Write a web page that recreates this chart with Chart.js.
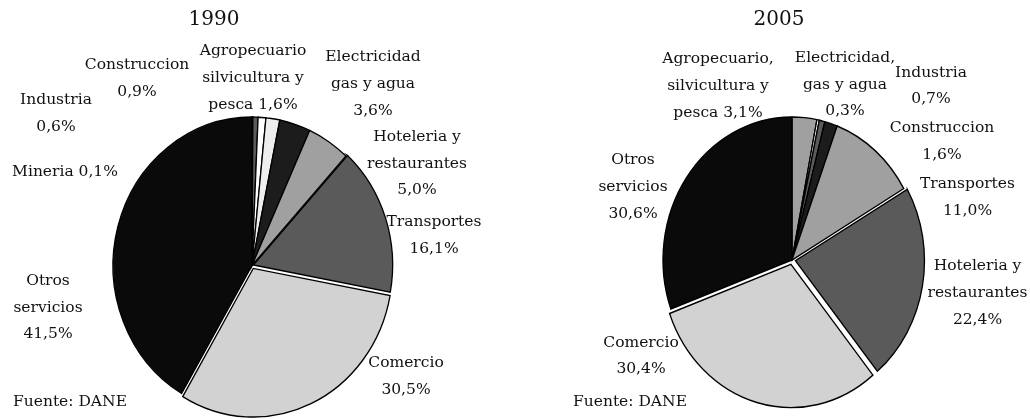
<!DOCTYPE html>
<html>
<head>
<meta charset="utf-8">
<script src="https://cdn.jsdelivr.net/npm/chart.js@4.4.1/dist/chart.umd.min.js"></script>
<style>
  body { margin: 0; background: #fff; }
  #wrap { position: relative; width: 1030px; height: 419px; }
  canvas { position: absolute; top: 0; }
  #pie1990 { left: 0; }
  #pie2005 { left: 515px; }
</style>
</head>
<body>
<div id="wrap">
  <canvas id="pie1990" width="515" height="419"></canvas>
  <canvas id="pie2005" width="515" height="419"></canvas>
</div>
<script>
// {v} is replaced by the formatted share
const categories1990 = ['Mineria {v}', 'Industria\n{v}', 'Construccion\n{v}', 'Agropecuario\nsilvicultura y\npesca {v}',
  'Electricidad\ngas y agua\n{v}', 'Hoteleria y\nrestaurantes\n{v}', 'Transportes\n{v}', 'Comercio\n{v}', 'Otros\nservicios\n{v}'];
const values1990 = [0.1, 0.6, 0.9, 1.6, 3.6, 5.0, 16.1, 30.5, 41.5];

const categories2005 = ['Agropecuario,\nsilvicultura y\npesca {v}', 'Electricidad,\ngas y agua\n{v}', 'Industria\n{v}',
  'Construccion\n{v}', 'Transportes\n{v}', 'Hoteleria y\nrestaurantes\n{v}', 'Comercio\n{v}', 'Otros\nservicios\n{v}'];
const values2005 = [3.1, 0.3, 0.7, 1.6, 11.0, 22.4, 30.4, 30.6];

const FONT = '"DejaVu Serif", serif';
const LINE = 26.7;

const fmt = v => v.toFixed(1).replace('.', ',') + '%';

function makePie(id, year, categories, values, opts) {
  // the original pies are slightly taller than wide
  const stretch = {
    id: 'stretch',
    beforeDatasetsDraw(chart) {
      const ctx = chart.ctx;
      ctx.save();
      ctx.translate(0, opts.cy);
      ctx.scale(1, opts.stretch);
      ctx.translate(0, -opts.cy);
    },
    afterDatasetsDraw(chart) {
      chart.ctx.restore();
    }
  };

  const texts = {
    id: 'texts',
    afterDraw(chart) {
      const ctx = chart.ctx;
      ctx.save();
      ctx.fillStyle = '#111';
      ctx.textAlign = 'center';
      ctx.textBaseline = 'middle';
      ctx.font = '20px ' + FONT;
      ctx.fillText(year, opts.titleX, 20);
      ctx.font = '15.5px ' + FONT;
      categories.forEach((cat, i) => {
        const lines = cat.replace('{v}', fmt(values[i])).split('\n');
        const [x, y] = opts.labelPos[i];
        const top = y - (lines.length - 1) * LINE / 2;
        lines.forEach((ln, k) => ctx.fillText(ln, x, top + k * LINE));
      });
      ctx.textAlign = 'left';
      ctx.fillText('Fuente: DANE', opts.sourceX, 402);
      ctx.restore();
    }
  };

  const w = 515, h = 419;
  return new Chart(document.getElementById(id), {
    type: 'pie',
    data: {
      labels: categories.map(c => c.replace(/\s*\{v\}/, '').replace(/\n/g, ' ')),
      datasets: [{
        data: values,
        backgroundColor: opts.colors,
        borderColor: '#000',
        borderWidth: 1.3,
        borderJoinStyle: 'miter',
        offset: opts.offsets, // chart.js moves an arc by offset / 4 px
        clip: false
      }]
    },
    options: {
      responsive: false,
      animation: false,
      events: [],
      radius: opts.r,
      layout: {
        padding: {
          left: Math.max(0, 2 * opts.cx - w), right: Math.max(0, w - 2 * opts.cx),
          top: Math.max(0, 2 * opts.cy - h), bottom: Math.max(0, h - 2 * opts.cy)
        }
      },
      plugins: { legend: { display: false }, tooltip: { enabled: false } }
    },
    plugins: [stretch, texts]
  });
}

makePie('pie1990', '1990', categories1990, values1990, {
  cx: 252, cy: 265.5, r: 139, stretch: 1.068,
  colors: ['#3a3a3a', '#5a5a5a', '#ffffff', '#eeeeee', '#1c1c1c', '#a0a0a0', '#5a5a5a', '#d2d2d2', '#0a0a0a'],
  offsets: [0, 0, 0, 0, 0, 0, 6, 12, 0],
  titleX: 214,
  labelPos: [[65, 172], [56, 113.5], [137, 78.5], [253, 78], [373, 84], [417, 163.5], [434, 235.5], [406, 376.5], [48, 307.5]],
  sourceX: 13
});

makePie('pie2005', '2005', categories2005, values2005, {
  cx: 277, cy: 260, r: 129, stretch: 1.109,
  colors: ['#a0a0a0', '#ffffff', '#5a5a5a', '#1c1c1c', '#a0a0a0', '#5a5a5a', '#d2d2d2', '#0a0a0a'],
  offsets: [0, 0, 0, 0, 0, 14, 16, 0],
  titleX: 264,
  labelPos: [[203, 86], [330, 84.5], [416, 86], [427, 141.5], [452.5, 197.5], [462.5, 293], [126, 356], [118, 187]],
  sourceX: 58
});
</script>
</body>
</html>
